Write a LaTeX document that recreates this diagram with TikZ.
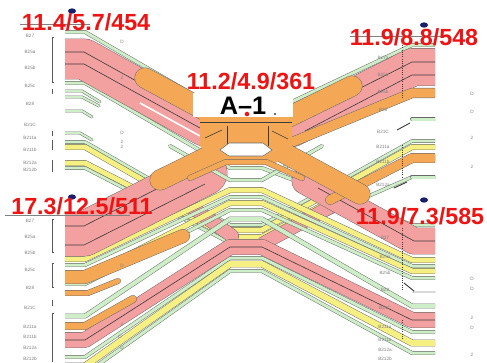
\documentclass[tikz,border=0pt]{standalone}
\usepackage{fontspec}
\setmainfont{Liberation Sans}
\definecolor{pinkc}{RGB}{243,160,160}
\definecolor{orangec}{RGB}{244,168,86}
\definecolor{greenc}{RGB}{206,238,200}
\definecolor{yellowc}{RGB}{246,240,130}
\definecolor{edgec}{RGB}{105,105,105}
\definecolor{darkl}{RGB}{60,60,60}
\definecolor{redl}{RGB}{238,20,20}
\definecolor{navyc}{RGB}{25,30,110}
\begin{document}
\begin{tikzpicture}[x=0.75pt,y=-0.75pt,
  band/.style={draw=edgec, line width=0.35pt, double=#1, line cap=round, line join=round},
  dl/.style={draw=darkl, line width=0.45pt},
  lab/.style={text=redl, font=\bfseries\fontsize{17.5}{18}\selectfont, inner sep=0pt},
  tiny/.style={text=gray, font=\fontsize{3.5}{4}\selectfont, inner sep=0pt},
  brk/.style={draw=gray!70!black, line width=0.7pt},
  rbrk/.style={draw=darkl, line width=0.7pt, densely dotted},
  oline/.style={draw=orangec, line cap=round},
  oedge/.style={draw=edgec, line cap=round}]
\useasboundingbox (0,0) rectangle (487,362);
\fill[white] (0,0) rectangle (487,362);

\begin{scope}
\clip (65,0) rectangle (435,362);
% ---- lines running under the wide bands
\draw[band=greenc, double distance=2.25pt] (50,32)--(85,32)--(230,116)--(262,116)--(412,45)--(450,45);
\draw[band=greenc, double distance=2.25pt] (50,83)--(85,83)--(230,168)--(262,168)--(412,225)--(450,225);
\draw[band=greenc, double distance=2pt] (50,142)--(85,142)--(230,225)--(262,225)--(412,141)--(450,141);
\draw[band=yellowc, double distance=3.75pt] (50,147)--(85,147)--(230,230)--(262,230)--(412,147)--(450,147);
\draw[band=yellowc, double distance=3.75pt] (50,163)--(85,163)--(230,237)--(262,237)--(412,158)--(450,158);
\draw[band=greenc, double distance=2pt] (50,168)--(85,168)--(230,243)--(262,243)--(412,177)--(450,177);
\draw[band=pinkc, double distance=9.75pt] (190,206)--(232,236);
\draw[band=pinkc, double distance=9.75pt] (264,243)--(332,206);
% ---- lower "^" bundle
\draw[band=yellowc, double distance=3.75pt] (50,259)--(85,259)--(230,190)--(262,190)--(412,260)--(450,260);
\draw[band=greenc, double distance=2.25pt] (50,265)--(85,265)--(230,197)--(262,197)--(412,266)--(450,266);
\draw[band=yellowc, double distance=3.75pt] (50,277)--(85,277)--(230,203)--(262,203)--(412,271)--(450,271);
\draw[band=greenc, double distance=2.25pt] (50,284)--(85,284)--(230,210)--(262,210)--(412,278)--(450,278);
\draw[band=greenc, double distance=3pt] (50,316)--(85,316)--(230,219)--(262,219)--(412,306)--(450,306);
\draw[band=greenc, double distance=2.25pt] (50,357)--(85,357)--(230,258)--(262,258)--(412,332)--(450,332);
\draw[band=yellowc, double distance=4.5pt] (50,366)--(85,366)--(230,264)--(262,264)--(412,343)--(450,343);
\draw[band=greenc, double distance=2.25pt] (50,374)--(85,374)--(230,271)--(262,271)--(412,353)--(450,353);
\draw[band=pinkc, double distance=11.25pt] (50,340)--(85,340)--(230,247)--(262,247)--(412,320)--(450,320);
\draw[dl] (50,340)--(85,340)--(230,247)--(262,247)--(412,320)--(450,320);
% ---- the four wide pink arms
\draw[band=pinkc, double distance=30pt] (50,59)--(84,59)--(205,126);
\draw[band=pinkc, double distance=27.75pt] (450,67)--(413,67)--(292,128);
\draw[band=pinkc, double distance=33pt] (50,234)--(84,234)--(205,173);
\draw[band=pinkc, double distance=19.5pt] (450,241)--(414,241)--(305,181);
\draw[white, line width=1.2pt] (140,103)--(200,136);
\draw[white, line width=1.2pt] (350,118)--(300,143);
\draw[dl] (50,52)--(84,52)--(185,108);
\draw[dl] (50,64)--(84,64)--(200,128);
\draw[dl] (450,62)--(412,62)--(315,111);
\draw[dl] (450,75)--(412,75)--(305,131);
\draw[dl] (50,226)--(84,226)--(190,172);
\draw[dl] (50,245)--(84,245)--(205,184);
\draw[dl] (450,241)--(414,241)--(318,188);
% ---- middle hexagon line
\draw[band=greenc, double distance=2.25pt] (170,146)--(230,180)--(262,180)--(322,146);
% ---- orange bands
\draw[band=orangec, double distance=7pt] (450,93)--(412,93)--(290,143);
\draw[band=orangec, double distance=6.75pt] (450,158)--(412,158)--(330,200);
\draw[band=orangec, double distance=9.75pt] (50,277)--(85,277)--(183,236);
\draw[band=orangec, double distance=3.75pt] (50,293)--(88,293)--(118,281);
\draw[band=orangec, double distance=5.25pt] (50,326)--(85,326)--(133,299);
\draw[oedge, line width=15.7pt] (145,78)--(360,194);
\draw[oedge, line width=15.7pt] (352,86)--(160,180);
\draw[oline, line width=15pt] (145,78)--(360,194);
\draw[oline, line width=15pt] (352,86)--(160,180);
\fill[orangec] (200,108)--(292,108)--(292,146)--(276,163)--(216,163)--(200,146)--cycle;
\draw[band=orangec, double distance=3.75pt] (190,178)--(226,162)--(266,162)--(302,178);
\draw[dl] (200,122)--(292,122);
\draw[dl] (227,126)--(227,148);
\draw[dl] (268,126)--(268,146);
\draw[dl] (205,138)--(222,130);
\draw[dl] (272,131)--(288,139);
\filldraw[fill=white, draw=edgec, line width=0.4pt] (220,150)--(229,143)--(263,143)--(272,150)--(263,156)--(229,156)--cycle;
% ---- short stubs
\draw[band=greenc, double distance=1.5pt] (50,91)--(82,91)--(100,102);
\draw[band=greenc, double distance=1.5pt] (50,97)--(82,97)--(99,106);
\draw[band=greenc, double distance=1.5pt] (50,111)--(82,111)--(92,117);
\draw[band=greenc, double distance=1.5pt] (50,133)--(80,133)--(92,140);
\draw[band=greenc, double distance=2.25pt] (450,119)--(412,119);
\draw[dl, line width=0.7pt] (397,130)--(410,123);
\draw[band=greenc, double distance=2.25pt] (450,177)--(412,177);
\draw[dl, line width=0.7pt] (394,188)--(407,182);
\draw[band=gray!30, double distance=1.5pt] (450,292)--(414,292);
\draw[dl, line width=0.7pt] (404,283)--(414,291);
\end{scope}

% ---- header lines
\draw[gray, line width=0.5pt] (20,24)--(90,24);
\draw[gray, line width=0.5pt] (5,215)--(130,215);
\draw[gray, line width=0.5pt] (350,36)--(445,36);
% ---- brackets
\draw[brk] (54,37)--(52,37)--(52,82)--(54,82);
\draw[brk] (52,89)--(52,94);
\draw[brk] (52,131)--(52,136);
\draw[brk] (52,140)--(52,150);
\draw[brk] (52,160)--(52,172);
\draw[brk] (54,219)--(52,219)--(52,252)--(54,252);
\draw[brk] (54,263)--(52,263)--(52,287)--(54,287);
\draw[brk] (52,300)--(52,306);
\draw[brk] (54,313)--(52,313)--(52,362);
\draw[rbrk] (402,45)--(402,98);
\draw[rbrk] (402,145)--(402,177);
\draw[rbrk] (402,228)--(402,290);
\draw[rbrk] (402,320)--(402,340);

% ---- tiny row labels
\foreach \t/\y [count=\i] in {B27/36,B25a/52,B25b/68,B25c/86,B28/104,B21C/125,B211a/138,B211b/150,B212a/163,B212b/170}
  \node[tiny] (ul\i) at (30,\y) {\t};
\foreach \t/\y [count=\i] in {B27/221,B25a/237,B25b/253,B25c/270,B28/288,B21C/308,B211a/327,B211b/337,B212a/348,B212b/359}
  \node[tiny] (ll\i) at (30,\y) {\t};
\foreach \t/\y [count=\i] in {B27a/58,B25a/75,B25b/92,B28/110,B21C/132,B211a/147,B211b/162,B212a/185}
  \node[tiny] (ur\i) at (383,\y) {\t};
\foreach \t/\y [count=\i] in {B27/238,B25a/257,B25b/273,B28/290,B21C/308,B211a/327,B211b/340,B212a/350,B212b/359}
  \node[tiny] (lr\i) at (385,\y) {\t};
\foreach \t/\x/\y [count=\i] in {D/122/42,Z/122/78,D/122/133,2/122/142,2/122/147,D/122/266,2/122/325,D/120/337,D/122/348,D/472/94,D/472/112,2/472/138,2/472/167,D/472/279,D/472/289,2/472/318,D/472/328,2/472/355}
  \node[tiny] (m\i) at (\x,\y) {\t};

% ---- centre box
\fill[white] (193,93) rectangle (293,117);
\node[font=\bfseries\fontsize{19}{20}\selectfont, inner sep=0pt] (a1) at (243,106) {A--1};
\fill[redl] (247,114) circle[radius=1.7pt];
\fill[darkl] (275,114) circle[radius=0.8pt];

% ---- markers
\fill[navyc] (72,11) ellipse[x radius=3pt, y radius=2pt];
\fill[navyc] (424,25) ellipse[x radius=3pt, y radius=2pt];
\fill[navyc] (72,197) ellipse[x radius=3pt, y radius=2pt];
\fill[navyc] (424,200) ellipse[x radius=3pt, y radius=2pt];

% ---- red values
\node[lab] (l1) at (86,22) {11.4/5.7/454};
\node[lab] (l2) at (414,37) {11.9/8.8/548};
\node[lab] (l3) at (251,81) {11.2/4.9/361};
\node[lab] (l4) at (82,206) {17.3/12.5/511};
\node[lab] (l5) at (420,216) {11.9/7.3/585};
\end{tikzpicture}
\end{document}
